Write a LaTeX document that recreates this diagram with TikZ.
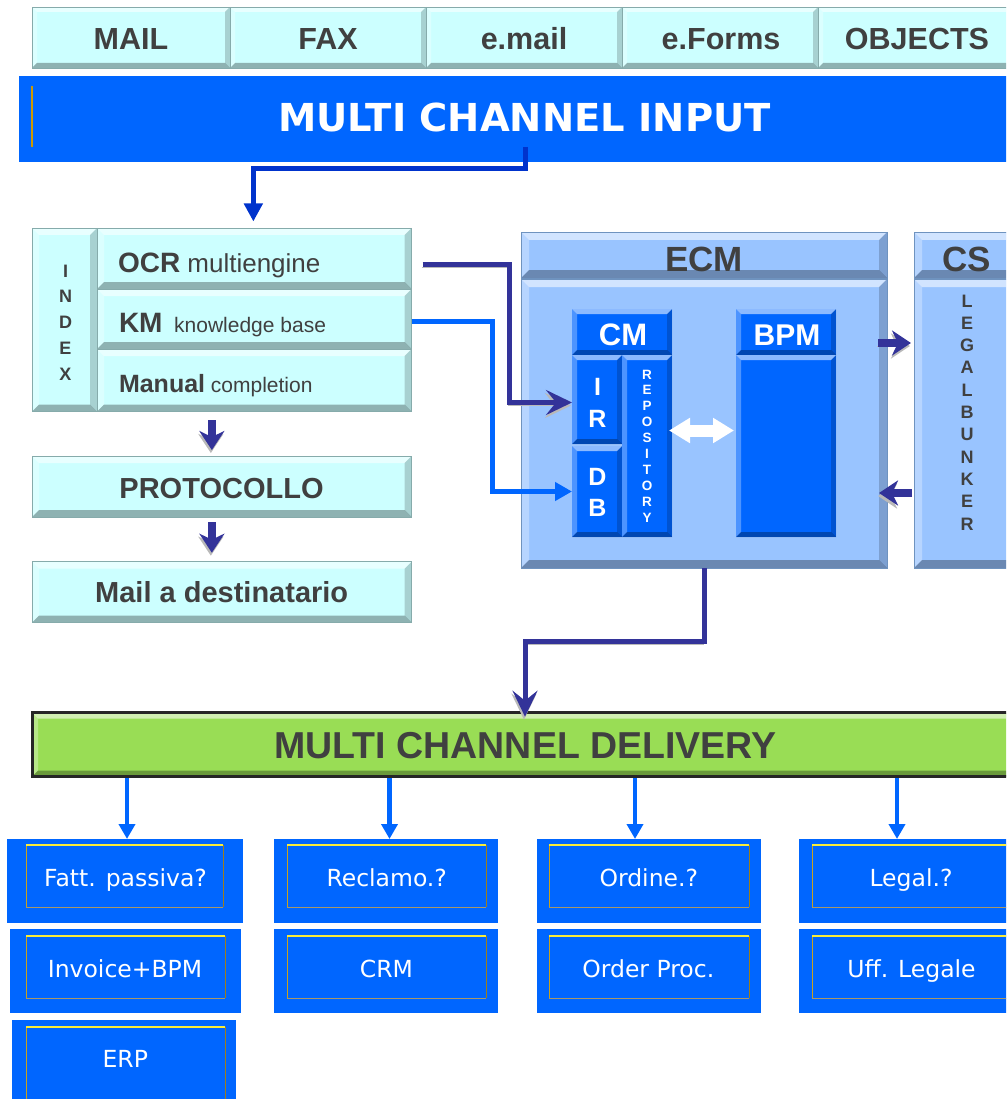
\documentclass[tikz,border=0pt]{standalone}
\usepackage{fontspec}
\setmainfont{Liberation Sans}
\newfontfamily\dvsans{DejaVu Sans}
\usetikzlibrary{arrows.meta,calc}

\definecolor{cyanfill}{HTML}{CCFFFF}
\definecolor{cyanedge}{HTML}{86ABAB}
\definecolor{ink}{HTML}{404040}
\definecolor{vivid}{HTML}{0066FF}
\definecolor{ecmfill}{HTML}{99C4FF}
\definecolor{ecmedge}{HTML}{6F93BF}
\definecolor{navy}{HTML}{333399}
\definecolor{royal}{HTML}{0033CC}
\definecolor{lime}{HTML}{99DD55}
\definecolor{amber}{HTML}{CC9900}
\definecolor{frtopc}{HTML}{F8EC3A}
\definecolor{frleftc}{HTML}{C8A21E}
\definecolor{frbotc}{HTML}{A89868}
\definecolor{frrightc}{HTML}{9C7F1C}

\newcommand\fsz[1]{\fontsize{#1}{#1}\selectfont}
% rectangle node from corner (x1,y1) to corner (x2,y2)
\newcommand\blk[6]{\node[#2, minimum width={(#5)-(#3)}, minimum height={(#6)-(#4)}] (#1) at ({((#3)+(#5))/2},{((#4)+(#6))/2}) {};}
% thin golden frame inside the delivery boxes
\newcommand\frm[4]{%
  \draw[frleftc, line width=1pt] (#1,#2) -- (#1,#4);
  \draw[frrightc, line width=1pt] (#3,#2) -- (#3,#4);
  \draw[frbotc, line width=1.2pt] (#1,#4) -- (#3,#4);
  \draw[frtopc, line width=1.5pt] (#1,#2) -- (#3,#2);}

\tikzset{
  box/.style={rectangle, inner sep=0pt, outer sep=0pt},
  bevel/.style={path picture={
    \path (path picture bounding box.north west) coordinate (q1)
          (path picture bounding box.north east) coordinate (q2)
          (path picture bounding box.south east) coordinate (q3)
          (path picture bounding box.south west) coordinate (q4);
    \fill[white,opacity=.55] (q1) -- (q2) -- ([xshift=-#1,yshift=-#1]q2) -- ([xshift=#1,yshift=-#1]q1) -- cycle;
    \fill[white,opacity=.3] (q1) -- ([xshift=#1,yshift=-#1]q1) -- ([xshift=#1,yshift=#1]q4) -- (q4) -- cycle;
    \fill[black,opacity=.3] (q4) -- ([xshift=#1,yshift=#1]q4) -- ([xshift=-#1,yshift=#1]q3) -- (q3) -- cycle;
    \fill[black,opacity=.18] (q2) -- (q3) -- ([xshift=-#1,yshift=#1]q3) -- ([xshift=-#1,yshift=-#1]q2) -- cycle;
  }},
  bevel/.default=6pt,
  tab/.style={box, fill=cyanfill, draw=cyanedge, line width=0.8pt, bevel=5pt},
  pale/.style={box, fill=cyanfill, draw=cyanedge, line width=0.8pt, bevel=7pt},
  ecm/.style={box, fill=ecmfill, draw=ecmedge, line width=0.8pt, bevel=8pt},
  deep/.style={box, fill=vivid, bevel=5pt},
  flat/.style={box, fill=vivid},
  greenbar/.style={box, fill=lime, draw=black!85, line width=3pt, bevel=6pt},
  lbl/.style={inner sep=0pt, outer sep=0pt, anchor=base},
  tabtxt/.style={lbl, font=\fsz{30.5}\bfseries, text=ink},
  inktxt/.style={lbl, font=\fsz{29}\bfseries, text=ink},
  whitetxt/.style={lbl, font=\bfseries, text=white},
  outtxt/.style={lbl, font=\dvsans\fsz{23.5}, text=white},
  shade/.style={preaction={draw=gray!55, transform canvas={xshift=-1pt,yshift=-3pt}}},
  navyarr/.style={draw=navy, line width=8pt, shade, -{Stealth[length=19pt,width=25pt,inset=6pt]}},
  navyline/.style={draw=navy, line width=5pt, shade, -{Stealth[length=26pt,width=25pt,inset=10pt]}},
  blueline/.style={draw=vivid, line width=5pt, -{Triangle[length=17pt,width=18pt]}},
  royalline/.style={draw=royal, line width=5pt, -{Triangle[length=18pt,width=18pt]}},
  downarr/.style={draw=vivid, line width=4.5pt, -{Triangle[length=15pt,width=16pt]}},
  whitearr/.style={draw=white, line width=12pt, {Triangle[length=21pt,width=24pt]}-{Triangle[length=21pt,width=24pt]}},
}

\begin{document}
\begin{tikzpicture}[x=1pt,y=-1pt]
\useasboundingbox (0,0) rectangle (1006,1099);
\clip (0,0) rectangle (1006,1099);

% ---------- input channels ----------
\blk{tmail}{tab}{32}{7}{230}{68}
\blk{tfax}{tab}{230}{7}{426}{68}
\blk{temail}{tab}{426}{7}{622}{68}
\blk{tforms}{tab}{622}{7}{818}{68}
\blk{tobj}{tab}{818}{7}{1014}{68}
\node[tabtxt] (lmail) at (131,50) {MAIL};
\node[tabtxt] (lfax) at (328,50) {FAX};
\node[tabtxt] (lemail) at (524,50) {e.mail};
\node[tabtxt] (lforms) at (721,50) {e.Forms};
\node[tabtxt] (lobj) at (917,50) {OBJECTS};

\blk{mci}{flat}{19}{76}{1030}{162}
\draw[amber, line width=1.2pt] (32,86) -- (32,147);
\node[lbl, font=\dvsans\fsz{38.5}\bfseries, text=white] (lmci) at (524.5,132) {MULTI CHANNEL INPUT};

% ---------- indexing ----------
\blk{index}{pale}{32}{228}{97}{411.7}
\blk{ocr}{pale}{97}{228}{411.7}{289}
\blk{km}{pale}{97}{289}{411.7}{349}
\blk{man}{pale}{97}{349}{411.7}{411.7}
\foreach \c [count=\i] in {I,N,D,E,X}
  \node[lbl, font=\fsz{18}\bfseries, text=ink] (ix\i) at (65.5,{277+(\i-1)*25.8}) {\c};
\node[lbl, anchor=base west, text=ink] (locr) at (118,272) {{\fsz{28}\bfseries OCR}{\fsz{26}\ multiengine}};
\node[lbl, anchor=base west, text=ink] (lkm) at (119,332) {{\fsz{28}\bfseries KM}{\fsz{21}\ \ knowledge base}};
\node[lbl, anchor=base west, text=ink] (lman) at (119,392) {{\fsz{25}\bfseries Manual}{\fsz{21}\ completion}};

\blk{proto}{pale}{32}{456}{411.7}{517}
\node[inktxt] (lproto) at (221.5,498) {PROTOCOLLO};
\blk{mail}{pale}{32}{561.7}{411.7}{622.7}
\node[inktxt] (lmailto) at (221.7,602) {Mail a destinatario};

% ---------- ECM ----------
\blk{ecmhead}{ecm}{521}{232}{887}{278}
\blk{ecmbody}{ecm}{521}{279}{887}{568}
\node[lbl, font=\fsz{35}\bfseries, text=ink] (lecm) at (704,271) {ECM};
\blk{cshead}{ecm}{914}{232}{1022}{278}
\blk{csbody}{ecm}{914}{279}{1022}{568}
\node[lbl, font=\fsz{35}\bfseries, text=ink] (lcs) at (967,271) {CS};
\foreach \c [count=\i] in {L,E,G,A,L,B,U,N,K,E,R}
  \node[lbl, font=\fsz{18}\bfseries, text=ink] (lb\i) at (967,{307+(\i-1)*22.3}) {\c};

\blk{cm}{deep}{572}{309}{672}{355}
\node[whitetxt, font=\fsz{31}\bfseries] (lcm) at (623,345) {CM};
\blk{ir}{deep}{572}{355}{622}{444}
\blk{db}{deep}{572}{446}{622}{537}
\blk{repo}{deep}{622}{355}{672}{537}
\node[whitetxt, font=\fsz{25}\bfseries] (li) at (597.5,395) {I};
\node[whitetxt, font=\fsz{25}\bfseries] (lr) at (597.5,427) {R};
\node[whitetxt, font=\fsz{25}\bfseries] (ld) at (597.5,485) {D};
\node[whitetxt, font=\fsz{25}\bfseries] (lbb) at (597.5,516) {B};
\foreach \c [count=\i] in {R,E,P,O,S,I,T,O,R,Y}
  \node[whitetxt, font=\fsz{13.5}\bfseries] (rp\i) at (647,{379+(\i-1)*15.9}) {\c};

\blk{bpm}{deep}{736}{309}{836}{355}
\node[whitetxt, font=\fsz{30}\bfseries] (lbpm) at (787,345) {BPM};
\blk{bpmbody}{deep}{736}{355}{836}{537}

% ---------- delivery ----------
\blk{mcd}{greenbar}{32}{712.7}{1016}{776.7}
\node[lbl, font=\fsz{37.5}\bfseries, text=ink] (lmcd) at (525.5,758) {MULTI CHANNEL DELIVERY};

\blk{f1}{flat}{7}{839}{243}{922.7}
\blk{f2}{flat}{274}{839}{498}{922.7}
\blk{f3}{flat}{537}{839}{761}{922.7}
\blk{f4}{flat}{799}{839}{1023}{922.7}
\blk{g1}{flat}{10}{929}{241}{1012.7}
\blk{g2}{flat}{274}{929}{498}{1012.7}
\blk{g3}{flat}{537}{929}{761}{1012.7}
\blk{g4}{flat}{799}{929}{1023}{1012.7}
\blk{h1}{flat}{12}{1020}{236}{1104}

\frm{26}{845}{223}{907.3}
\frm{26}{936}{225}{998.3}
\frm{26}{1027}{225}{1110}
\frm{287}{845}{486}{907.3}
\frm{287}{936}{486}{998.3}
\frm{549}{845}{749}{907.3}
\frm{549}{936}{749}{998.3}
\frm{812}{845}{1030}{907.3}
\frm{812}{936}{1030}{998.3}

\node[outtxt] (lf1) at (125.5,886) {Fatt. passiva?};
\node[outtxt] (lf2) at (386.7,886) {Reclamo.?};
\node[outtxt] (lf3) at (648.8,886) {Ordine.?};
\node[outtxt] (lf4) at (911,886) {Legal.?};
\node[outtxt] (lg1) at (125,977) {Invoice+BPM};
\node[outtxt] (lg2) at (386.5,977) {CRM};
\node[outtxt] (lg3) at (648.3,977) {Order Proc.};
\node[outtxt] (lg4) at (911.5,977) {Uff. Legale};
\node[outtxt] (lh1) at (125.3,1067) {ERP};

% ---------- connectors ----------
\draw[royalline] ($(mci.south)+(0.5,-15)$) -- ++(0,22) -| ($(ocr.north)+(-1,-6.5)$);
\draw[navyline] ($(ocr.east)+(11,5.5)$) -- ++(86.6,0) |- ($(ir.west)+(0,3)$);
\draw[blueline] ($(km.east)+(0,2)$) -- ++(80.3,0) |- (db.west);
\draw[navyarr] ($(man.south -| proto.north)+(-10,8.5)$) -- ($(proto.north)+(-10,-6)$);
\draw[navyarr] ($(proto.south)+(-10,5)$) -- ($(mail.north)+(-10,-9)$);
\draw[whitearr] ($(repo.east |- ir.center)+(-3,31)$) -- ($(bpmbody.west |- ir.center)+(-2,31)$);
\draw[navyarr] ($(ecmbody.east)+(-9,-80.5)$) -- ($(csbody.west)+(-3,-80.5)$);
\draw[navyarr] ($(csbody.west)+(-2,69.5)$) -- ($(ecmbody.east)+(-8,69.5)$);
\draw[navyline] (ecmbody.south) -- ++(0,73.5) -| ($(mcd.north)+(1,4)$);
\draw[downarr] ($(mcd.south -| f1.north)+(2,1.5)$) -- ($(f1.north)+(2,0)$);
\draw[downarr] ($(mcd.south -| f2.north)+(3.5,1.5)$) -- ($(f2.north)+(3.5,0)$);
\draw[downarr] ($(mcd.south -| f3.north)+(-14,1.5)$) -- ($(f3.north)+(-14,0)$);
\draw[downarr] ($(mcd.south -| f4.north)+(-14,1.5)$) -- ($(f4.north)+(-14,0)$);
\end{tikzpicture}
\end{document}
